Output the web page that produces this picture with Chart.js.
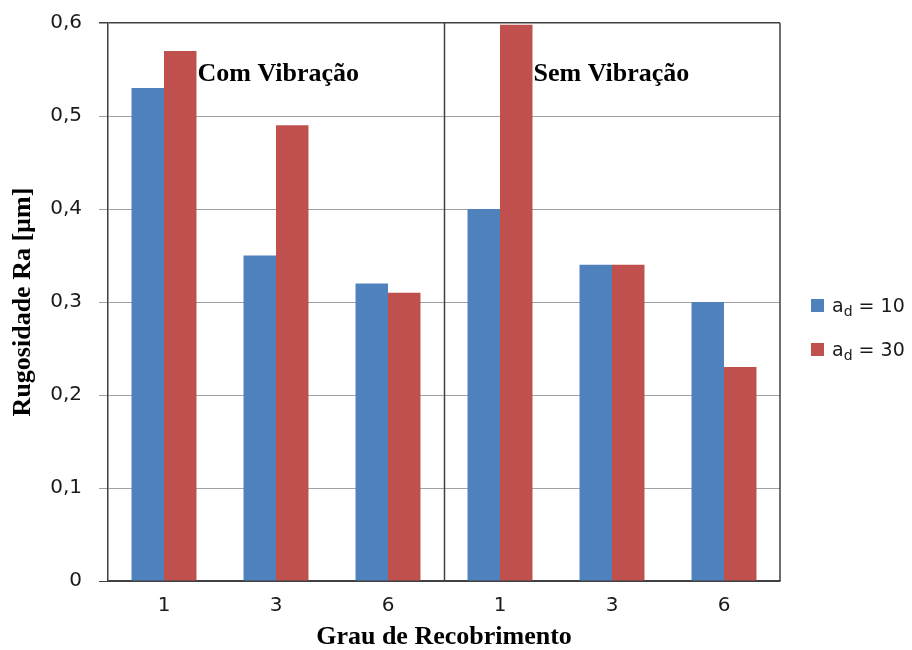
<!DOCTYPE html>
<html>
<head>
<meta charset="utf-8">
<script src="https://cdn.jsdelivr.net/npm/chart.js@4"></script>
<style>
    html, body { margin: 0; padding: 0; background: #fff; }
    .wrap { position: relative; width: 912px; height: 650px; }
    .legend { position: absolute; left: 811px; top: 294px; font-family: 'DejaVu Sans', sans-serif; font-size: 19px; color: #1a1a1a; }
    .legend-item { display: flex; align-items: center; height: 22px; margin-bottom: 22px; }
    .legend-box { width: 13px; height: 13px; margin-right: 8px; }
    .legend sub { font-size: 14px; vertical-align: -4px; line-height: 0; }
</style>
</head>
<body>
<div class="wrap">
    <canvas id="chart" width="912" height="650"></canvas>
    <div class="legend" id="legend"></div>
</div>
<script>
// Data
const labels = ['1', '3', '6', '1', '3', '6'];
const ad10 = [0.53, 0.35, 0.32, 0.40, 0.34, 0.30];
const ad30 = [0.57, 0.49, 0.31, 0.598, 0.34, 0.23];
const seriesNames = ['10', '30'];
const colors = ['#4F81BD', '#C0504D'];
const groupLabels = ['Com Vibração', 'Sem Vibração'];
const groupStart = [0, 3];
const groupY = 0.545;

const $ = id => document.getElementById(id);
const DARK = '#404040', GRID = '#a0a0a0';
const titleFont = { family: 'Liberation Serif', size: 26, weight: 'bold', lineHeight: 1 };

// Plot frame: right edge plus the divider between the two groups
const framePlugin = {
    id: 'frame',
    beforeDatasetsDraw(chart) {
        const { ctx, chartArea: a, scales: { x } } = chart;
        const mid = (x.getPixelForValue(2) + x.getPixelForValue(3)) / 2;
        ctx.save();
        ctx.strokeStyle = DARK;
        ctx.lineWidth = 1.5;
        ctx.beginPath();
        ctx.moveTo(a.right, a.top);
        ctx.lineTo(a.right, a.bottom);
        ctx.moveTo(Math.round(mid) + 0.5, a.top);
        ctx.lineTo(Math.round(mid) + 0.5, a.bottom);
        ctx.stroke();
        ctx.restore();
    },
    afterDatasetsDraw(chart) {
        const { ctx, scales: { y } } = chart;
        const meta = chart.getDatasetMeta(1);
        ctx.save();
        ctx.font = 'bold 26px "Liberation Serif", serif';
        ctx.fillStyle = '#000';
        ctx.textBaseline = 'middle';
        groupLabels.forEach((t, i) => {
            const bar = meta.data[groupStart[i]];
            ctx.fillText(t, bar.x + bar.width / 2 + 1, y.getPixelForValue(groupY));
        });
        ctx.restore();
    }
};

new Chart($('chart'), {
    type: 'bar',
    data: {
        labels,
        datasets: [ad10, ad30].map((d, i) => ({
            label: 'a_d = ' + seriesNames[i],
            data: d,
            backgroundColor: colors[i],
            borderWidth: 0,
            categoryPercentage: 0.58,
            barPercentage: 1
        }))
    },
    options: {
        responsive: false,
        animation: false,
        layout: { padding: { left: 0, top: 23, right: 132, bottom: 0 } },
        plugins: { legend: { display: false }, tooltip: { enabled: false } },
        scales: {
            x: {
                grid: { display: false },
                border: { color: DARK, width: 1.5 },
                ticks: { color: '#1a1a1a', font: { family: 'DejaVu Sans', size: 20 }, padding: 5 },
                title: {
                    display: true,
                    text: 'Grau de Recobrimento',
                    color: '#000',
                    font: titleFont,
                    padding: { top: 0, bottom: 0 }
                },
                afterFit: s => { s.height = 69; }
            },
            y: {
                min: 0,
                max: 0.6,
                grid: {
                    color: c => (c.tick.value === 0 || c.tick.value >= 0.6 - 1e-9) ? DARK : GRID,
                    lineWidth: c => (c.tick.value >= 0.6 - 1e-9) ? 1.5 : 1,
                    tickLength: 9
                },
                border: { color: DARK, width: 1.5 },
                ticks: {
                    stepSize: 0.1,
                    color: '#1a1a1a',
                    font: { family: 'DejaVu Sans', size: 20 },
                    padding: 17,
                    callback: v => v === 0 ? '0' : v.toFixed(1).replace('.', ',')
                },
                title: {
                    display: true,
                    text: 'Rugosidade Ra [µm]',
                    color: '#000',
                    font: titleFont,
                    padding: { top: 10, bottom: 0 }
                },
                afterFit: s => {
                    s.width = 108;
                    s.paddingTop = 0;
                    s.paddingBottom = 0;
                }
            }
        }
    },
    plugins: [framePlugin]
});

// Legend with subscript in the label
$('legend').innerHTML = seriesNames.map((n, i) => `
    <div class="legend-item">
        <span class="legend-box" style="background:${colors[i]}"></span>
        <span>a<sub>d</sub> = ${n}</span>
    </div>`).join('');
</script>
</body>
</html>
